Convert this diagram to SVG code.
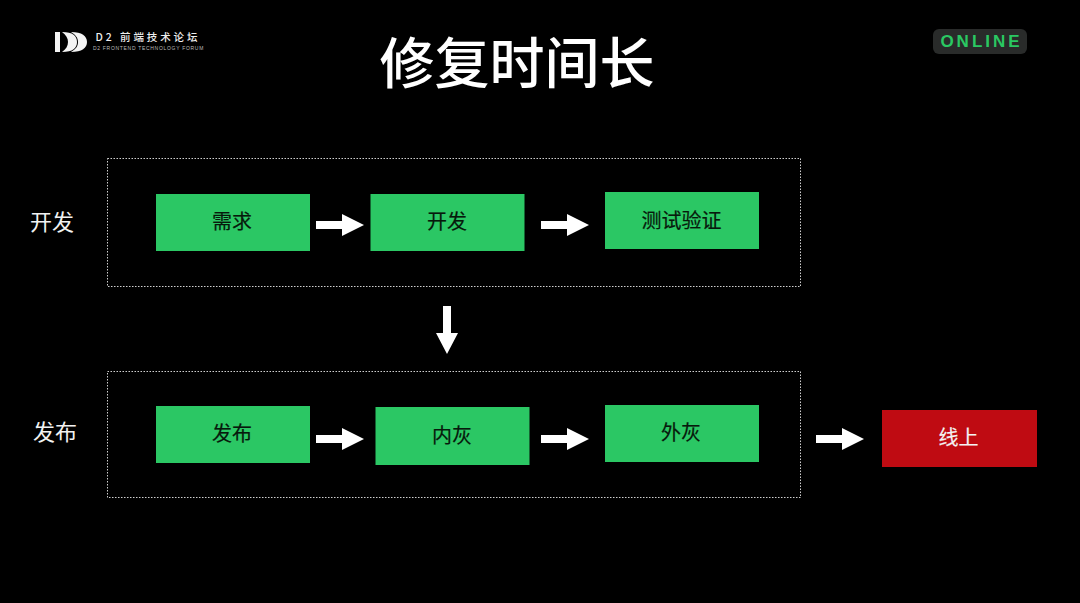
<svg xmlns="http://www.w3.org/2000/svg" width="1080" height="603" viewBox="0 0 1080 603">
<style>
text{font-family:"Noto Sans CJK SC","Liberation Sans",sans-serif;text-anchor:middle}
.box{fill:#2bc764}
.lbl{font-size:20px;font-weight:400;fill:#07190c;stroke:#07190c;stroke-width:0.2}
.side{font-size:22px;fill:#f2f2f2}
.frame{fill:none;stroke:#cfcfcf;stroke-width:1;stroke-dasharray:1.5 1.5}
.arrow{fill:#fff}
</style>
<defs>
<polygon id="ar" points="0,-4 26,-4 26,-11 48,0 26,11 26,4 0,4"/>
</defs>
<rect width="1080" height="603" fill="#000"/>
<g id="brand">
<path fill="#f4f4f4" d="M55 32h5v20h-5zM62 32c11 0 15 4 15 10s-4 10-15 10c4-3 6-6 6-10s-2-7-6-10zM71 32c11 0 16 4 16 10s-5 10-16 10c5-3 7-6 7-10s-2-7-7-10z"/>
<text x="148" y="41" font-size="10.500" font-weight="500" fill="#eee" letter-spacing="2.900">D2 前端技术论坛</text>
<text x="148.500" y="50" font-size="5" fill="#bbb" letter-spacing="0.700" style="font-family:'Liberation Sans',sans-serif">D2 FRONTEND TECHNOLOGY FORUM</text>
</g>
<text id="title" x="517" y="83" font-size="55" font-weight="500" fill="#fff">修复时间长</text>
<g id="online">
<rect x="933" y="29" width="94" height="25" rx="6" fill="#292b2a"/>
<text x="981.500" y="47" font-size="17" font-weight="700" fill="#2ac862" letter-spacing="3" style="font-family:'Liberation Sans',sans-serif">ONLINE</text>
</g>
<g id="group-dev">
<rect class="frame" x="107.500" y="158.500" width="693" height="128"/>
<text class="side" x="52" y="230">开发</text>
</g>
<g id="group-release">
<rect class="frame" x="107.500" y="371.500" width="693" height="126"/>
<text class="side" x="55" y="440">发布</text>
</g>
<g id="node-req"><rect class="box" x="156" y="194" width="154" height="57"/><text class="lbl" x="232" y="229">需求</text></g>
<g id="node-dev"><rect class="box" x="370.500" y="194" width="154" height="57"/><text class="lbl" x="447" y="229">开发</text></g>
<g id="node-test"><rect class="box" x="605" y="192" width="154" height="57"/><text class="lbl" x="681.500" y="228">测试验证</text></g>
<g id="node-pub"><rect class="box" x="156" y="406" width="154" height="57"/><text class="lbl" x="232" y="441">发布</text></g>
<g id="node-inner"><rect class="box" x="375.500" y="407" width="154" height="58"/><text class="lbl" x="452" y="443">内灰</text></g>
<g id="node-outer"><rect class="box" x="605" y="405" width="154" height="57"/><text class="lbl" x="681" y="440">外灰</text></g>
<g id="node-live"><rect x="882" y="410" width="155" height="57" fill="#bf0b12"/><text class="lbl" x="958.500" y="445" style="fill:#f4f4f4;stroke:#f4f4f4">线上</text></g>
<g id="connectors" class="arrow">
<use href="#ar" x="316" y="225"/>
<use href="#ar" x="541" y="225"/>
<use href="#ar" x="316" y="439"/>
<use href="#ar" x="541" y="439"/>
<use href="#ar" x="816" y="439"/>
<polygon points="443,306 451,306 451,333 458,333 447,354 436,333 443,333"/>
</g>
</svg>
